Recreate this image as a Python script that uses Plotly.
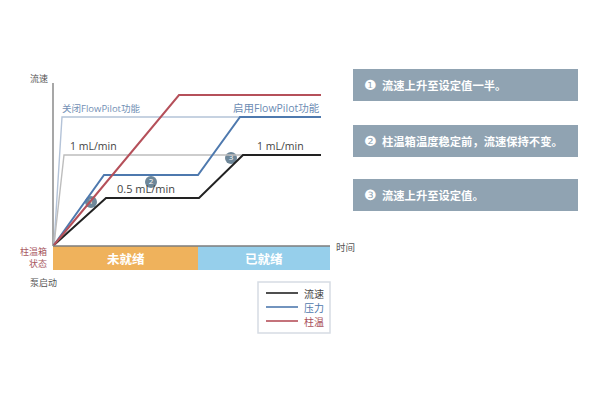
import plotly.graph_objects as go

# Time / level values (arbitrary units, origin at pump start)
flow_t = [0, 52, 145, 189, 267]
flow_v = [0, 47, 47, 90, 90]
pressure_t = [0, 50, 144, 186, 267]
pressure_v = [0, 70, 70, 128, 128]
temp_t = [0, 125, 267]
temp_v = [0, 150, 150]
pilot_off_t = [0, 8, 186]
pilot_off_v = [0, 128, 128]
flow_ref_t = [0, 10, 189]
flow_ref_v = [0, 90, 90]

badge_t = [37, 97, 177]
badge_v = [43, 63, 87]
badge_labels = ["1", "2", "3"]

status_labels = ["未就绪", "已就绪"]
status_start = [-1, 144]
status_end = [144, 276]
status_colors = ["#EFB25C", "#96CFEB"]

notes = ["流速上升至设定值一半。", "柱温箱温度稳定前，流速保持不变。", "流速上升至设定值。"]
note_marks = ["❶", "❷", "❸"]
note_top = [69, 125, 179]
note_bottom = [101, 157, 211]

legend_names = ["流速", "压力", "柱温"]
legend_line_colors = ["#222222", "#4E79AE", "#B5505A"]
legend_text_colors = ["#444444", "#4F78AC", "#A9505A"]
legend_y = [293, 307, 321]

W, H = 600, 400
X0, X1 = 53, 330          # plot area in page pixels
Y_TOP, Y_BOT = 65, 270
ORIGIN_X, ORIGIN_Y = 54, 245
CN = "Noto Sans CJK SC, sans-serif"
LAT = "Open Sans, Noto Sans CJK SC, sans-serif"


def px(x):
    return x / W


def py(y):
    return 1 - y / H


def label(x, y, text, size=9, color="#555555", anchor="left", family=CN, align="left"):
    return dict(xref="paper", yref="paper", x=px(x), y=py(y), text=text, showarrow=False,
                xanchor=anchor, yanchor="middle", align=align,
                font=dict(size=size, color=color, family=family), borderpad=0, borderwidth=0)


fig = go.Figure()
fig.add_trace(go.Scatter(x=badge_t, y=badge_v, mode="markers+text", showlegend=False, text=badge_labels,
                         textposition="middle center", textfont=dict(size=8, color="white", family=LAT),
                         marker=dict(size=12, color="#6E8799"), hoverinfo="skip"))
fig.add_trace(go.Scatter(x=pilot_off_t, y=pilot_off_v, mode="lines", showlegend=False,
                         line=dict(color="#B4C3D8", width=1.4), hoverinfo="skip"))
fig.add_trace(go.Scatter(x=flow_ref_t, y=flow_ref_v, mode="lines", showlegend=False,
                         line=dict(color="#BDBDBD", width=1.4), hoverinfo="skip"))
fig.add_trace(go.Scatter(x=flow_t, y=flow_v, mode="lines", showlegend=False,
                         line=dict(color=legend_line_colors[0], width=2)))
fig.add_trace(go.Scatter(x=pressure_t, y=pressure_v, mode="lines", showlegend=False,
                         line=dict(color=legend_line_colors[1], width=2)))
fig.add_trace(go.Scatter(x=temp_t, y=temp_v, mode="lines", showlegend=False,
                         line=dict(color=legend_line_colors[2], width=2)))

shapes = []
for s, e, c in zip(status_start, status_end, status_colors):
    shapes.append(dict(type="rect", xref="x", yref="y", x0=s, x1=e, y0=-25, y1=-1,
                       fillcolor=c, line_width=0, layer="below"))
shapes.append(dict(type="line", xref="paper", yref="paper", x0=px(53), x1=px(53), y0=py(83), y1=py(246),
                   line=dict(color="#8A8A8A", width=1.5), layer="below"))
shapes.append(dict(type="line", xref="paper", yref="paper", x0=px(53), x1=px(330), y0=py(246), y1=py(246),
                   line=dict(color="#7C7C7C", width=1.5)))
for t, b in zip(note_top, note_bottom):
    shapes.append(dict(type="rect", xref="paper", yref="paper", x0=px(353), x1=px(578), y0=py(b), y1=py(t),
                       fillcolor="#90A3B2", line_width=0, layer="below"))
shapes.append(dict(type="rect", xref="paper", yref="paper", x0=px(258), x1=px(330), y0=py(333), y1=py(282),
                   fillcolor="white", line=dict(color="#D6DCE4", width=1.5)))
for ly, c in zip(legend_y, legend_line_colors):
    shapes.append(dict(type="line", xref="paper", yref="paper", x0=px(266), x1=px(298), y0=py(ly), y1=py(ly),
                       line=dict(color=c, width=1.6)))

ann = [
    label(30, 78, "流速"),
    label(62, 108, "关闭FlowPilot功能", 9.5, "#7390B5", family=LAT),
    label(70, 146, "1 mL/min", 10.5, "#444444", family=LAT),
    label(117, 189, "0.5 mL/min", 11, "#444444", family=LAT),
    label(320, 108, "启用FlowPilot功能", 10.5, "#6C8BB3", "right", LAT),
    label(257, 146, "1 mL/min", 10.5, "#444444", family=LAT),
    label(336, 247, "时间", 9.5),
    label(47, 257.5, "柱温箱<br>状态", 9, "#A8585F", "right", align="right"),
    label(30, 282, "泵启动"),
]
for s, e, t in zip(status_start, status_end, status_labels):
    ann.append(dict(xref="x", yref="y", x=(s + e) / 2, y=-13, text="<b>%s</b>" % t, showarrow=False,
                    font=dict(size=12.5, color="white", family=CN)))
for m, n, t, b in zip(note_marks, notes, note_top, note_bottom):
    c = (t + b) / 2
    ann.append(label(364, c, m, 14, "white", family="DejaVu Sans"))
    ann.append(label(382, c, "<b>%s</b>" % n, 11.3, "white"))
for n, ly, c in zip(legend_names, legend_y, legend_text_colors):
    ann.append(label(304, ly, n, 10, c))

fig.update_layout(
    width=W, height=H, paper_bgcolor="white", plot_bgcolor="white",
    margin=dict(l=0, r=0, t=0, b=0), autosize=False, showlegend=False,
    xaxis=dict(domain=[px(X0), px(X1)], range=[X0 - ORIGIN_X, X1 - ORIGIN_X], visible=False, fixedrange=True),
    yaxis=dict(domain=[py(Y_BOT), py(Y_TOP)], range=[ORIGIN_Y - Y_BOT, ORIGIN_Y - Y_TOP], visible=False, fixedrange=True),
    shapes=shapes, annotations=ann,
)
fig.write_html("out.html", config={"displayModeBar": False},
               post_script="document.body.style.margin='0';document.body.style.overflow='hidden';")
